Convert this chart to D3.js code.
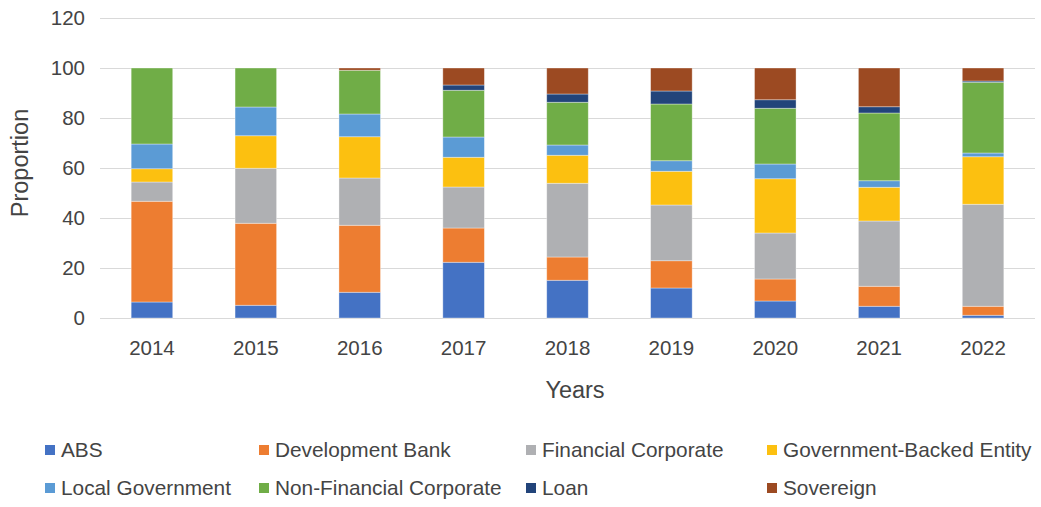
<!DOCTYPE html>
<html>
<head>
<meta charset="utf-8">
<script src="https://cdn.jsdelivr.net/npm/d3@7"></script>
<style>
  body { margin: 0; background: #fff; }
  svg { font-family: "Liberation Sans", Arial, sans-serif; }
</style>
</head>
<body>
<svg id="chart" width="1041" height="507"></svg>
<script>
// data
var years = ["2014", "2015", "2016", "2017", "2018", "2019", "2020", "2021", "2022"];
var seriesNames = ["ABS", "Development Bank", "Financial Corporate", "Government-Backed Entity",
    "Local Government", "Non-Financial Corporate", "Loan", "Sovereign"];
var abs = [6.4, 5.1, 10.3, 22.3, 15.1, 12.0, 6.8, 4.7, 1.1];
var developmentBank = [40.3, 32.8, 26.8, 13.7, 9.3, 10.9, 8.8, 8.0, 3.6];
var financialCorporate = [7.7, 22.0, 18.9, 16.4, 29.5, 22.3, 18.4, 26.1, 40.8];
var governmentBacked = [5.3, 13.0, 16.5, 11.9, 11.2, 13.5, 21.7, 13.5, 19.0];
var localGovernment = [9.9, 11.5, 9.1, 8.1, 4.1, 4.2, 5.9, 2.6, 1.5];
var nonFinancial = [30.4, 15.6, 17.5, 18.7, 17.1, 22.7, 22.3, 27.1, 28.3];
var loan = [0, 0, 0, 2.1, 3.3, 5.2, 3.4, 2.5, 0.5];
var sovereign = [0, 0, 0.9, 6.8, 10.4, 9.2, 12.7, 15.5, 5.2];
var yTicks = [0, 20, 40, 60, 80, 100, 120];

var colors = ["#4472C4", "#ED7D31", "#AFB0B3", "#FCC010", "#5B9BD5", "#70AD47", "#22447A", "#9C4A22"];
var allSeries = [abs, developmentBank, financialCorporate, governmentBacked,
    localGovernment, nonFinancial, loan, sovereign];

var table = years.map(function(y, i) {
    var row = { year: y };
    seriesNames.forEach(function(name, j) {
        row[name] = allSeries[j][i];
    });
    return row;
});

var svg = d3.select("#chart");
var textColor = "#444444";

var x = d3.scaleBand().domain(years).range([100, 1035]).paddingInner(0.6).paddingOuter(0.3);
var y = d3.scaleLinear().domain([0, 120]).range([318, 18]);

// gridlines
svg.append("g")
    .selectAll("line")
    .data(yTicks)
    .enter()
    .append("line")
    .attr("x1", 100)
    .attr("x2", 1035)
    .attr("y1", d => y(d) + 0.5)
    .attr("y2", d => y(d) + 0.5)
    .attr("stroke", "#d9d9d9")
    .attr("stroke-width", 1);

var stack = d3.stack().keys(seriesNames);
var layers = stack(table);

svg.append("g")
    .selectAll("g")
    .data(layers)
    .enter()
    .append("g")
    .attr("fill", (d, i) => colors[i])
    .selectAll("rect")
    .data(d => d)
    .enter()
    .append("rect")
    .attr("x", d => x(d.data.year))
    .attr("width", x.bandwidth())
    .attr("y", d => y(d[1]))
    .attr("height", d => Math.max(0, y(d[0]) - y(d[1])))
    .attr("stroke", "#ffffff")
    .attr("stroke-opacity", 0.45)
    .attr("stroke-width", 0.8);

// y axis
var yAxis = svg.append("g")
    .attr("transform", "translate(100,0)")
    .call(d3.axisLeft(y).tickValues(yTicks).tickSize(0).tickPadding(15));
yAxis.select(".domain").remove();
yAxis.selectAll("text")
    .attr("fill", textColor)
    .style("font-size", "20.5px");

// x axis
var xAxis = svg.append("g")
    .attr("transform", "translate(0,318)")
    .call(d3.axisBottom(x).tickSize(0).tickPadding(22));
xAxis.select(".domain").remove();
xAxis.selectAll("text")
    .attr("fill", textColor)
    .style("font-size", "20.5px");

// axis titles
svg.append("text")
    .attr("x", 575)
    .attr("y", 398)
    .attr("text-anchor", "middle")
    .attr("fill", textColor)
    .style("font-size", "23.5px")
    .text("Years");

svg.append("text")
    .attr("transform", "translate(28,163) rotate(-90)")
    .attr("text-anchor", "middle")
    .attr("fill", textColor)
    .style("font-size", "23.5px")
    .text("Proportion");

// legend
var legendX = [45, 259, 526, 767];
var legendY = [450, 488];

var legend = svg.append("g")
    .selectAll("g")
    .data(seriesNames)
    .enter()
    .append("g")
    .attr("transform", (d, i) => "translate(" + legendX[i % 4] + "," + legendY[Math.floor(i / 4)] + ")");

legend.append("rect")
    .attr("x", 0)
    .attr("y", -5)
    .attr("width", 10)
    .attr("height", 10)
    .attr("fill", (d, i) => colors[i]);

legend.append("text")
    .attr("x", 16)
    .attr("y", 0)
    .attr("dy", "0.35em")
    .attr("fill", textColor)
    .style("font-size", "20.8px")
    .text(d => d);
</script>
</body>
</html>
